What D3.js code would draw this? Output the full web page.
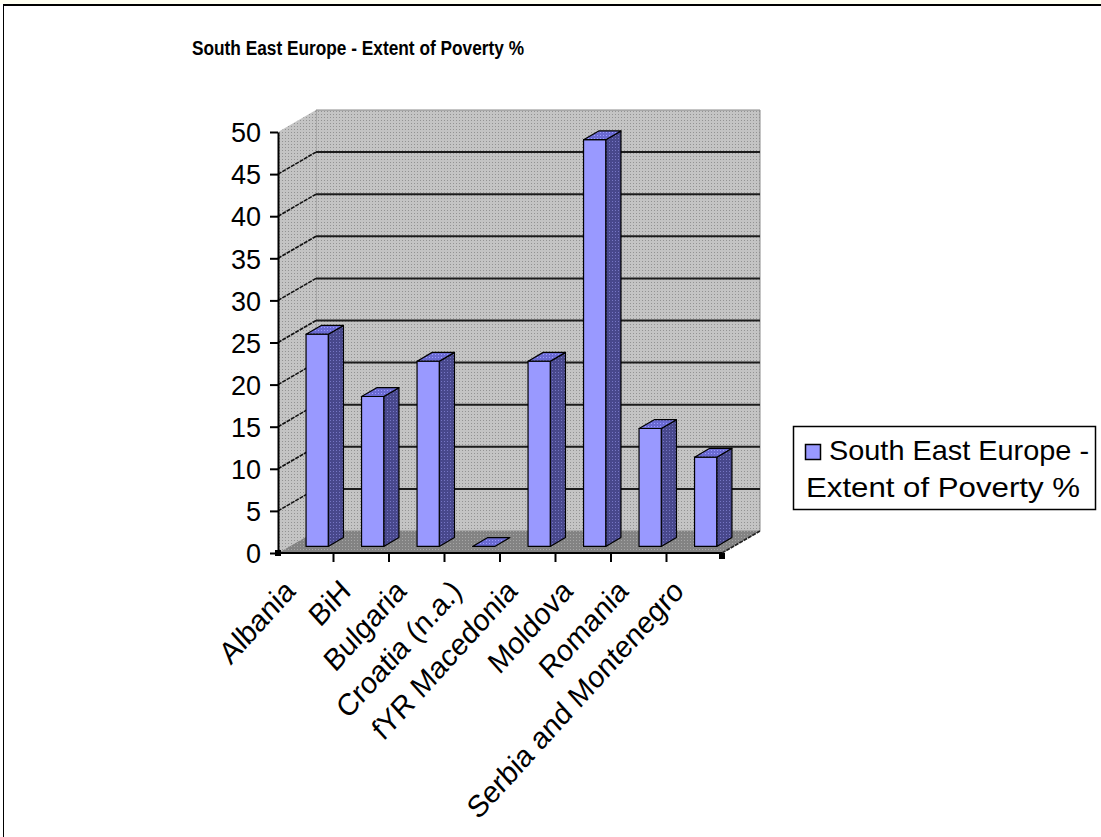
<!DOCTYPE html>
<html><head><meta charset="utf-8">
<script src="https://cdn.jsdelivr.net/npm/d3@7"></script>
<style>html,body{margin:0;padding:0;background:#fff;}svg{display:block;}</style>
</head><body>
<script>
const categories = ["Albania","BiH","Bulgaria","Croatia (n.a.)","fYR Macedonia","Moldova","Romania","Serbia and Montenegro"];
const values = [25.2, 17.8, 22.0, 0, 22.0, 48.3, 14.0, 10.6];
const yTicks = [0,5,10,15,20,25,30,35,40,45,50];
const seriesName = ["South East Europe -","Extent of Poverty %"];
const title = "South East Europe - Extent of Poverty %";

const W = 1101, H = 837;
const FONT = "Liberation Sans, Arial, sans-serif";
const svg = d3.select("body").append("svg").attr("width", W).attr("height", H);
const defs = svg.append("defs");
function pat(id, base, dot, size) {
  const p = defs.append("pattern").attr("id", id).attr("patternUnits", "userSpaceOnUse")
    .attr("width", size).attr("height", size);
  p.append("rect").attr("width", size).attr("height", size).attr("fill", base);
  p.append("rect").attr("width", 1).attr("height", 1).attr("fill", dot);
  return "url(#" + id + ")";
}
const wallFill = pat("wall", "#c4c4c4", "#939393", 3);
const floorFill = pat("floor", "#838383", "#a6a6a6", 3);
const sideFill = pat("side", "#48488c", "#7676c4", 3);
const topFill = pat("topf", "#6a6ad2", "#9c9cff", 3);

// background / outer border
svg.append("rect").attr("x",0).attr("y",0).attr("width",W).attr("height",H).attr("fill","#fff");
svg.append("rect").attr("x",0).attr("y",0).attr("width",W).attr("height",4).attr("fill","#fffff2");
svg.append("line").attr("x1",3).attr("x2",W).attr("y1",5).attr("y2",5).attr("stroke","#000").attr("stroke-width",2);
svg.append("line").attr("x1",3.5).attr("x2",3.5).attr("y1",5).attr("y2",H).attr("stroke","#000").attr("stroke-width",1);

// title
svg.append("text").attr("x", 192).attr("y", 55).attr("text-anchor","start")
  .attr("font-family", FONT).attr("font-weight","bold")
  .attr("font-size", 20).attr("textLength", 332).attr("lengthAdjust","spacingAndGlyphs").text(title);

// scales
const x = d3.scaleBand().domain(categories).range([278, 722]).padding(0);
const y = d3.scaleLinear().domain([0, 50]).range([553, 132]);
const DX = 38, DY = 22;
const proj = (px, v, z) => [px + DX * z, y(v) - DY * z];
const poly = pts => "M" + pts.map(p => p.join(",")).join("L") + "Z";

const x0 = x.range()[0], x1 = x.range()[1];
// walls
svg.append("path").attr("d", poly([proj(x0,50,1),proj(x1,50,1),proj(x1,0,1),proj(x0,0,1)]))
  .attr("fill", wallFill).attr("stroke","#8a8a8a").attr("stroke-width",1);
svg.append("path").attr("d", poly([proj(x0,50,0),proj(x0,50,1),proj(x0,0,1),proj(x0,0,0)]))
  .attr("fill", wallFill).attr("stroke","none");
svg.append("path").attr("d", poly([proj(x0,0,0),proj(x1,0,0),proj(x1,0,1),proj(x0,0,1)]))
  .attr("fill", floorFill).attr("stroke","none");

// gridlines
const grid = yTicks.filter(v => v > 0 && v < 50);
svg.append("g").selectAll("line").data(grid).join("line")
  .attr("x1", v => proj(x0,v,1)[0]).attr("y1", v => proj(x0,v,1)[1])
  .attr("x2", v => proj(x1,v,1)[0]).attr("y2", v => proj(x1,v,1)[1])
  .attr("stroke","#1c1c1c").attr("stroke-width",2);
svg.append("g").selectAll("line").data(grid).join("line")
  .attr("x1", v => proj(x0,v,0)[0]).attr("y1", v => proj(x0,v,0)[1])
  .attr("x2", v => proj(x0,v,1)[0]).attr("y2", v => proj(x0,v,1)[1])
  .attr("stroke","#111").attr("stroke-width",1.6).attr("stroke-dasharray","4,1");

// floor right edge
svg.append("line").attr("x1", proj(x1,0,0)[0]).attr("y1", proj(x1,0,0)[1])
  .attr("x2", proj(x1,0,1)[0]).attr("y2", proj(x1,0,1)[1])
  .attr("stroke","#222").attr("stroke-width",1.6).attr("stroke-dasharray","4,1");

// bars
const z1 = 0.3, z2 = 0.7;
const bw = x.bandwidth();
const bars = svg.append("g");
categories.forEach((c, i) => {
  const v = values[i];
  const xa = x(c) + bw * 0.3, xb = xa + bw * 0.4;
  const g = bars.append("g").attr("stroke","#000").attr("stroke-width",1.2).attr("stroke-linejoin","round");
  if (v > 0) {
    g.append("path").attr("d", poly([proj(xb,0,z1),proj(xb,0,z2),proj(xb,v,z2),proj(xb,v,z1)])).attr("fill", sideFill);
    g.append("path").attr("d", poly([proj(xa,0,z1),proj(xb,0,z1),proj(xb,v,z1),proj(xa,v,z1)])).attr("fill", "#9999ff");
  }
  g.append("path").attr("d", poly([proj(xa,v,z1),proj(xb,v,z1),proj(xb,v,z2),proj(xa,v,z2)])).attr("fill", topFill);
});

// floor front edge
svg.append("line").attr("x1", x0).attr("x2", x1).attr("y1", y(0)).attr("y2", y(0))
  .attr("stroke","#000").attr("stroke-width",2);

// y axis
const yAxis = d3.axisLeft(y).tickValues(yTicks).tickSize(8).tickSizeOuter(0).tickPadding(9);
const ya = svg.append("g").attr("transform", `translate(${x0},0)`).call(yAxis);
ya.select(".domain").attr("stroke","#000").attr("stroke-width",2);
ya.selectAll(".tick line").attr("stroke","#000").attr("stroke-width",2);
ya.selectAll(".tick text").attr("font-family", FONT)
  .attr("font-size",27).attr("fill","#000").attr("dy","0.36em");

// x ticks between categories
svg.append("g").selectAll("line").data(categories.slice(1)).join("line")
  .attr("x1", c => x(c)).attr("x2", c => x(c)).attr("y1", y(0)).attr("y2", y(0) + 9)
  .attr("stroke","#000").attr("stroke-width",2);

// x labels
svg.append("g").selectAll("text").data(categories).join("text")
  .attr("transform", c => `translate(${x(c) + bw/2 - 9},${y(0) + 40}) scale(1,1.1) rotate(-45)`)
  .attr("text-anchor","end")
  .attr("font-family", FONT).attr("font-size",28)
  .text(c => c);

// corner markers
[[x0, y(0)], [x1, y(0) + 3]].forEach(p => {
  svg.append("rect").attr("x", p[0]-3).attr("y", p[1]-3).attr("width",6).attr("height",6).attr("fill","#000");
});

// legend
const lg = svg.append("g");
lg.append("rect").attr("x",793.5).attr("y",426.5).attr("width",302).attr("height",83)
  .attr("fill","#fff").attr("stroke","#000").attr("stroke-width",1.5);
lg.append("rect").attr("x",805.5).attr("y",444.5).attr("width",15).attr("height",15)
  .attr("fill","#9999ff").attr("stroke","#000").attr("stroke-width",1.5);
const legendX = [829, 806], legendLen = [260, 274];
lg.selectAll("text.l").data(seriesName).join("text").attr("class","l")
  .attr("x", (d,i) => legendX[i]).attr("y", (d,i) => 460 + i * 37)
  .attr("font-family", FONT).attr("font-size",28)
  .attr("textLength", (d,i) => legendLen[i]).attr("lengthAdjust","spacingAndGlyphs")
  .text(d => d);
</script>
</body></html>
